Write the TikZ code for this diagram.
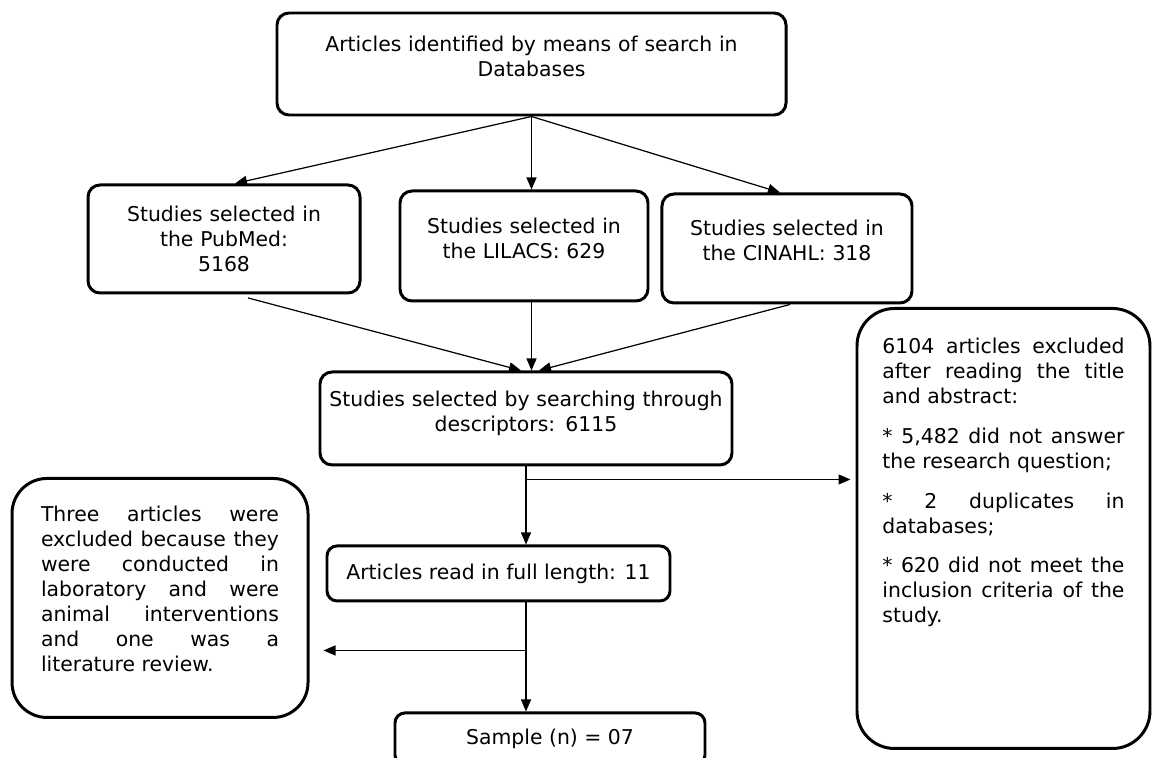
\documentclass[tikz,border=0pt]{standalone}
\usepackage{fontspec}
\setmainfont{DejaVu Sans}
\usetikzlibrary{arrows.meta,positioning}

% blank space kept under the text of a box
\newcommand{\padbelow}[1]{\par\vspace*{#1}\hrule height 0pt depth 0pt width 0pt}

\tikzset{
  box/.style={draw, line width=1.7pt, rounded corners=0.24cm, align=center,
    font=\fontsize{11.6}{14.2}\selectfont},
  sidebox/.style={draw, line width=1.7pt, rounded corners=0.75cm, align=justify,
    font=\fontsize{11.6}{14.2}\selectfont,
    execute at begin node={\setlength{\parskip}{0.3cm}\hyphenpenalty=10000\relax}},
  flow/.style={line width=0.7pt, -{Triangle[length=0.24cm,width=0.2cm]}}
}

\begin{document}
\begin{tikzpicture}
  \useasboundingbox (0,0) rectangle (23.14,-15.16);

  \node[box, minimum width=10.18cm, minimum height=2.04cm, text width=9.9cm] (databases) at (10.63,-1.28)
    {Articles identified by means of search in\\ Databases\padbelow{0.32cm}};
  \node[box, below = 1.46cm of databases, xshift=-0.15cm, minimum width=4.96cm, minimum height=2.2cm, text width=4.6cm] (lilacs)
    {Studies selected in\\ the LILACS: 629\padbelow{0.32cm}};
  \node[box, left = 0.74cm of lilacs, yshift=0.14cm, minimum width=5.44cm, minimum height=2.16cm, text width=5cm] (pubmed)
    {Studies selected in\\ the PubMed:\\ 5168};
  \node[box, right = 0.22cm of lilacs, yshift=-0.05cm, minimum width=5cm, minimum height=2.18cm, text width=4.7cm] (cinahl)
    {Studies selected in\\ the CINAHL: 318\padbelow{0.32cm}};
  \node[box, below = 1.36cm of lilacs, xshift=0.04cm, minimum width=8.24cm, minimum height=1.86cm, text width=8cm] (descriptors)
    {Studies selected by searching through\\ descriptors: 6115\padbelow{0.2cm}};
  \node[box, below = 1.56cm of descriptors, xshift=-0.55cm, minimum width=6.86cm, minimum height=1.1cm, rounded corners=0.2cm] (fulltext)
    {Articles read in full length: 11};
  \node[box, below = 2.18cm of fulltext, xshift=1.03cm, minimum width=6.2cm, minimum height=1.04cm, rounded corners=0.2cm] (sample)
    {Sample (n) = 07};
  \node[sidebox, left = 0.32cm of fulltext, yshift=-0.49cm, minimum width=5.92cm, minimum height=4.78cm, text width=4.76cm, rounded corners=0.7cm] (review)
    {Three articles were excluded because they were conducted in laboratory and were animal interventions and one was a literature review.\padbelow{0.36cm}};
  \node[sidebox, right = 2.44cm of descriptors, yshift=-2.2cm, minimum width=5.86cm, minimum height=8.8cm, text width=4.84cm] (excluded)
    {6104 articles excluded after reading the title and abstract:\par
     * 5,482 did not answer the research question;\par
     * 2 duplicates in databases;\par
     * 620 did not meet the inclusion criteria of the study.\padbelow{1.84cm}};

  % databases to the three sources
  \draw[flow] (databases.south) -- ([xshift=0.22cm]pubmed.north);
  \draw[flow] (databases.south) -- (databases.south |- lilacs.north);
  \draw[flow] (databases.south) -- ([xshift=-0.14cm]cinahl.north);

  % sources to descriptors
  \draw[flow, shorten <=0.27cm] ([xshift=0.22cm]pubmed.south) -- ([xshift=-0.1cm]descriptors.north);
  \draw[flow] (databases.south |- lilacs.south) -- (databases.south |- descriptors.north);
  \draw[flow] ([xshift=0.06cm]cinahl.south) -- ([xshift=0.26cm]descriptors.north);

  % screening
  \coordinate[below = 0.26cm of descriptors.south] (split1);
  \draw[flow] (descriptors.south) -- (descriptors.south |- fulltext.north);
  \draw[flow, shorten >=0.1cm] (split1) -- (split1 -| excluded.west);

  % full text to sample
  \coordinate (split2) at ([yshift=-0.96cm]descriptors.south |- fulltext.south);
  \draw[flow] (descriptors.south |- fulltext.south) -- (descriptors.south |- sample.north);
  \draw[flow, shorten >=0.28cm] (split2) -- (split2 -| review.east);
\end{tikzpicture}
\end{document}
